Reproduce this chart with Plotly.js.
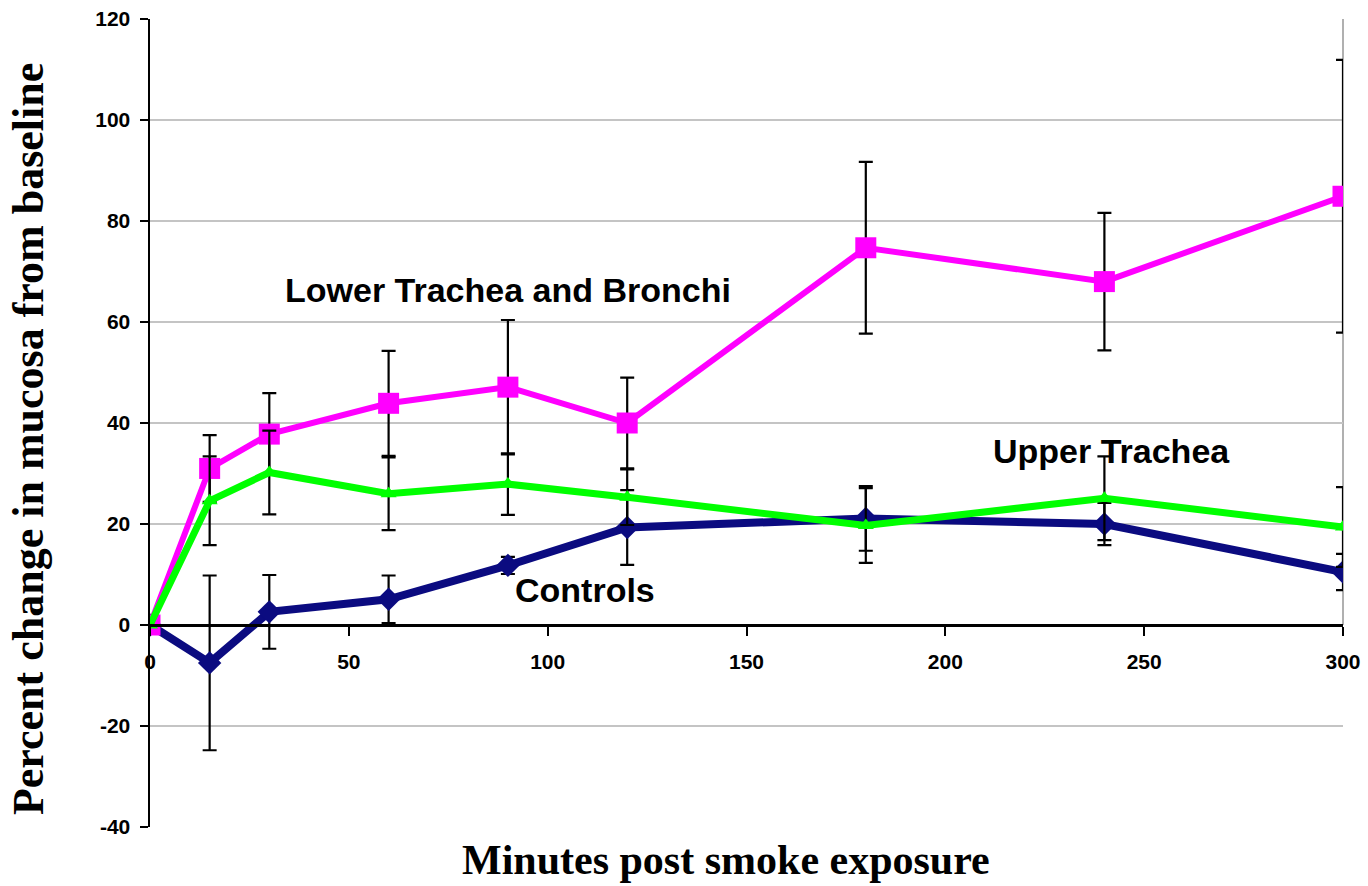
<!DOCTYPE html>
<html>
<head>
<meta charset="utf-8">
<script src="https://cdn.plot.ly/plotly-3.0.1.min.js"></script>
<style>html,body{margin:0;padding:0;background:#fff;}#chart{width:1368px;height:886px;}</style>
</head>
<body>
<div id="chart"></div>
<script>
// Minutes post smoke exposure
const minutes = [0, 15, 30, 60, 90, 120, 180, 240, 300];

// Lower Trachea and Bronchi
const lowerTrachea = [0, 31.0, 37.8, 43.9, 47.1, 40.0, 74.7, 68.0, 84.9];
const lowerTracheaErr = [0, 6.6, 8.1, 10.4, 13.3, 9.0, 17.0, 13.6, 27.0];

// Upper Trachea
const upperTrachea = [0, 24.6, 30.2, 26.0, 27.9, 25.3, 19.7, 25.1, 19.4];
const upperTracheaErr = [0, 8.8, 8.3, 7.2, 6.1, 5.5, 7.4, 8.3, 7.9];

// Controls
const controls = [0, -7.5, 2.6, 5.1, 11.8, 19.3, 21.1, 20.0, 10.5];
const controlsErr = [0, 17.3, 7.3, 4.7, 1.7, 7.4, 6.4, 4.2, 3.6];

const xTicks = [0, 50, 100, 150, 200, 250, 300];
const yTicks = [-40, -20, 0, 20, 40, 60, 80, 100, 120];

const seriesLabels = ["Lower Trachea and Bronchi", "Upper Trachea", "Controls"];

function errBar(arr) {
  return {type: 'data', array: arr, visible: true, color: '#000', thickness: 2.2, width: 7};
}

const traces = [
  {
    x: minutes, y: controls, name: seriesLabels[2], mode: 'lines+markers',
    line: {color: '#0b0b80', width: 8},
    marker: {symbol: 'diamond', size: 18, color: '#0b0b80'},
    error_y: errBar(controlsErr)
  },
  {
    x: minutes, y: lowerTrachea, name: seriesLabels[0], mode: 'lines+markers',
    line: {color: '#ff00ff', width: 6},
    marker: {symbol: 'square', size: 21, color: '#ff00ff'},
    error_y: errBar(lowerTracheaErr)
  },
  {
    x: minutes, y: upperTrachea, name: seriesLabels[1], mode: 'lines+markers',
    line: {color: '#00ff00', width: 7},
    marker: {symbol: 'triangle-up', size: 14, color: '#00ff00'},
    error_y: errBar(upperTracheaErr)
  }
];

const labelFont = {family: 'Arial, "Liberation Sans", sans-serif', size: 34, color: '#000'};
const tickFont = {family: '"Liberation Sans Narrow", "Arial Narrow", Arial, sans-serif', size: 21, color: '#000', weight: 'bold'};

const layout = {
  width: 1368, height: 886,
  margin: {l: 150, r: 25, t: 19, b: 59},
  paper_bgcolor: '#fff', plot_bgcolor: '#fff',
  showlegend: false,
  xaxis: {
    range: [0, 300],
    tickvals: xTicks, ticktext: xTicks.map(String),
    anchor: 'free', position: 0.25,
    showgrid: false, zeroline: false,
    showline: true, linecolor: '#000', linewidth: 2.5,
    ticks: 'outside', ticklen: 9, tickwidth: 2, tickcolor: '#000',
    ticklabelstandoff: 8,
    tickfont: tickFont
  },
  yaxis: {
    range: [-40, 120],
    tickvals: yTicks, ticktext: yTicks.map(String),
    showgrid: true, gridcolor: '#c4c4c4', gridwidth: 2,
    zeroline: false,
    showline: true, linecolor: '#000', linewidth: 2.5,
    ticks: 'outside', ticklen: 8, tickwidth: 2, tickcolor: '#000',
    ticklabelstandoff: 5,
    tickfont: tickFont
  },
  shapes: [
    {type: 'line', xref: 'paper', yref: 'paper', x0: 1, x1: 1, y0: 0.25, y1: 1,
     line: {color: '#b0b0b0', width: 2}, layer: 'below'}
  ],
  annotations: [
    {text: '<b>' + seriesLabels[0] + '</b>', x: 90, y: 66.3, xref: 'x', yref: 'y',
     showarrow: false, font: labelFont, xanchor: 'center', yanchor: 'middle'},
    {text: '<b>' + seriesLabels[1] + '</b>', x: 241.9, y: 34.5, xref: 'x', yref: 'y',
     showarrow: false, font: labelFont, xanchor: 'center', yanchor: 'middle'},
    {text: '<b>' + seriesLabels[2] + '</b>', x: 109.4, y: 6.9, xref: 'x', yref: 'y',
     showarrow: false, font: labelFont, xanchor: 'center', yanchor: 'middle'},
    {text: '<b>Percent change in mucosa from baseline</b>', xref: 'paper', yref: 'paper',
     x: -0.1023, y: 0.48, textangle: -90, showarrow: false, xanchor: 'center', yanchor: 'middle',
     font: {family: '"Times New Roman", "Liberation Serif", serif', size: 44, color: '#000'}},
    {text: '<b>Minutes post smoke exposure</b>', xref: 'paper', yref: 'paper',
     x: 0.483, y: -0.0405, showarrow: false, xanchor: 'center', yanchor: 'middle',
     font: {family: '"Times New Roman", "Liberation Serif", serif', size: 42, color: '#000'}}
  ]
};

Plotly.newPlot('chart', traces, layout, {displayModeBar: false, staticPlot: true});
</script>
</body>
</html>
